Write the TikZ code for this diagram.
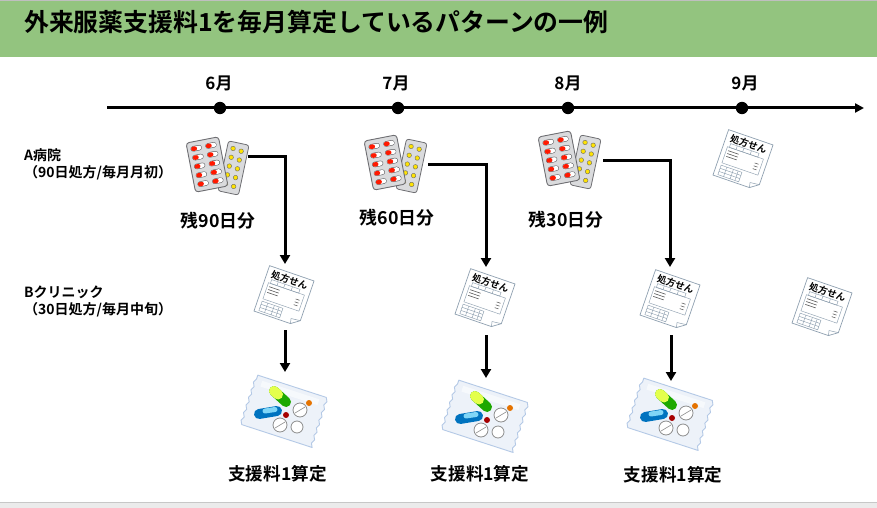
\documentclass[tikz,border=0pt]{standalone}
\usepackage{fontspec}
\setmainfont{Noto Sans CJK JP}[BoldFont={Noto Sans CJK JP Bold}]
\usetikzlibrary{arrows.meta}
\definecolor{hdr}{HTML}{93C47F}
\definecolor{cardfill}{HTML}{DADBDD}
\definecolor{cardedge}{HTML}{6E6E72}
\definecolor{bagedge}{HTML}{B4C9E6}
\definecolor{bagfill}{HTML}{EDF2F9}
\definecolor{paperedge}{HTML}{8FA0B0}
\newcommand{\capsl}[2]{%
  \draw[line width=5.4pt,line cap=round,cardedge!70!black] (#1-3,#2)--(#1+3,#2);
  \draw[line width=4.4pt,line cap=round,white] (#1-3,#2)--(#1+3,#2);
  \draw[line width=4.4pt,line cap=round,red!80!orange] (#1-3,#2)--(#1-1.4,#2);}
\newcommand{\ydot}[2]{\fill[draw=black!60,line width=.4pt,fill=yellow!85!orange] (#1,#2) circle (2.3);}
\tikzset{
  x=1pt,y=-1pt,
  conn/.style={line width=3pt,-{Triangle[length=9pt,width=10pt]}},
  monthlabel/.style={font=\bfseries\fontsize{17}{20}\selectfont},
  remain/.style={font=\bfseries\fontsize{17.8}{20}\selectfont},
  calc label/.style={font=\bfseries\fontsize{17.6}{20}\selectfont},
  rowlabel/.style={font=\bfseries\fontsize{14}{17}\selectfont,align=left,anchor=north west,inner sep=0pt},
  pillpack/.pic={
    \begin{scope}[shift={(15.5,2)},rotate=-12]
      \filldraw[fill=cardfill,draw=cardedge,line width=.8pt,rounded corners=2.5pt] (-10.5,-25.5) rectangle (10.5,25.5);
      \foreach \yy in {-19,-10,-1,8,17}{\ydot{-4.5}{\yy}\ydot{4}{\yy+1}}
    \end{scope}
    \begin{scope}[shift={(-11,-1.5)},rotate=11]
      \filldraw[fill=cardfill,draw=cardedge,line width=.9pt,rounded corners=3pt] (-16.5,-25) rectangle (16.5,25);
      \foreach \yy in {-18,-9,0,9,18}{\capsl{-7.5}{\yy}\capsl{7.5}{\yy}}
    \end{scope}
  },
  rxpaper/.pic={
    \begin{scope}[rotate=-19,line width=.45pt]
      \filldraw[fill=white,draw=paperedge,line width=.7pt]
        (-23.5,-24)--(23.5,-24)--(23.5,18)--(15,24)--(-23.5,24)--cycle;
      \draw[paperedge,line width=.5pt] (15,24)--(14,19)--(23.5,18);
      \node[inner sep=0pt,transform shape,font=\bfseries\fontsize{9.5}{10}\selectfont] (rxt) at (0,-17) {処方せん};
      \draw[paperedge] (-17,-11.5) rectangle (13,-7.5);
      \foreach \xx in {-10,-3,5}{\draw[paperedge] (\xx,-11.5)--(\xx,-7.5);}
      \draw[paperedge] (-19,-7.5)--(19,-7.5)--(19,9.5)--(-19,9.5)--cycle;
      \foreach \yy in {-4,-1,2}{\draw[black!65,line width=.6pt] (-17,\yy)--(-6,\yy);}
      \foreach \yy in {-1,2,5}{\draw[black!65,line width=.6pt] (12,\yy)--(16,\yy);}
      \draw[paperedge] (-19,12) rectangle (3,22);
      \foreach \yy in {15.3,18.6}{\draw[paperedge] (-19,\yy)--(3,\yy);}
      \foreach \xx in {-13,-6,-1}{\draw[paperedge] (\xx,12)--(\xx,22);}
    \end{scope}
  },
  medbag/.pic={
    \begin{scope}[rotate=-18]
      \filldraw[fill=bagfill,draw=bagedge,line width=.9pt,line join=round]
        (-36,-26)--(36,-26)--(38,-22)--(36,-18)--(38,-14)--(36,-10)--(38,-6)--(36,-2)--(38,2)--(36,6)--(38,10)--(36,14)--(38,18)--(36,22)--(38,26)
        --(-36,26)--(-38,22)--(-36,18)--(-38,14)--(-36,10)--(-38,6)--(-36,2)--(-38,-2)--(-36,-6)--(-38,-10)--(-36,-14)--(-38,-18)--(-36,-22)--cycle;
      \fill[white,opacity=.55] (-30,-22) rectangle (30,-16);
    \end{scope}
    \draw[line width=10pt,line cap=round,green!60!black!85!lime] (-10,-20)--(2,-9);
    \draw[line width=10pt,line cap=round,lime!60!yellow!70!white] (-10,-20)--(-6,-16.5);
    \draw[line width=10pt,line cap=round,blue!40!cyan!75!black] (-25,3)--(-7,0);
    \draw[line width=5pt,line cap=round,cyan!50!white] (-19,0)--(-9,-1.5);
    \fill[red!65!black] (2,4) circle (3);
    \fill[orange!90!black] (25,-8) circle (3);
    \foreach \px/\py/\pr in {16/-1/7,-4/14/7,13/16/6}{
      \filldraw[fill=white,draw=black!45,line width=.8pt] (\px,\py) circle (\pr);}
    \draw[black!45,line width=.6pt] (11,2)--(21,-4);
    \draw[black!45,line width=.6pt] (-9,17)--(1,11);
  },
}
\begin{document}
\begin{tikzpicture}
\useasboundingbox (0,0) rectangle (877,508);
\fill[white] (0,0) rectangle (877,508);
\fill[black!25] (0,0) rectangle (877,1);
\fill[hdr] (0,1) rectangle (877,57);
\node[anchor=west,inner sep=0pt,font=\bfseries\fontsize{24.85}{28}\selectfont] (title) at (24,22) {外来服薬支援料1を毎月算定しているパターンの一例};
\fill[black!8] (0,503) rectangle (877,508);
\draw[black!22,line width=1pt] (0,502.5)--(877,502.5);

% timeline
\coordinate (tstart) at (107,108);
\coordinate (tend) at (864,108);
\draw[line width=3pt,-{Triangle[length=9pt,width=9pt]}] (tstart)--(tend);
\foreach \nm/\xx/\lx/\tx in {jun/220/219/6月,jul/398/396/7月,aug/568/568/8月,sep/742/745/9月}{
  \fill (\xx,108) circle (6.2);
  \node[monthlabel,inner sep=0pt] (m\nm) at (\lx,83) {\tx};
}

\node[rowlabel] (rowa) at (24,148) {A病院\\（90日処方/毎月月初）};
\node[rowlabel] (rowb) at (24,286) {Bクリニック\\（30日処方/毎月中旬）};

% anchors for connectors
\coordinate (p1) at (248,156); \coordinate (p2) at (428,164); \coordinate (p3) at (603,160);
\coordinate (r1t) at (285,264); \coordinate (r2t) at (486,267); \coordinate (r3t) at (670,267);
\coordinate (r1b) at (285,330); \coordinate (r2b) at (486,335); \coordinate (r3b) at (671,335);
\coordinate (b1t) at (285,372); \coordinate (b2t) at (486,378); \coordinate (b3t) at (671,381);

\draw[conn] (p1)-|(r1t);
\draw[conn] (p2)-|(r2t);
\draw[conn] (p3)-|(r3t);
\draw[conn] (r1b)--(b1t);
\draw[conn] (r2b)--(b2t);
\draw[conn] (r3b)--(b3t);

\pic at (218,166) {pillpack};
\pic at (396,164) {pillpack};
\pic at (570,160) {pillpack};

\pic at (743,160) {rxpaper};
\pic at (284,296) {rxpaper};
\pic at (485,299) {rxpaper};
\pic at (670,300) {rxpaper};
\pic at (822,308) {rxpaper};

\pic at (284,411) {medbag};
\pic at (485,416) {medbag};
\pic at (670,414) {medbag};

\node[remain,inner sep=0pt] (z1) at (218,221) {残90日分};
\node[remain,inner sep=0pt] (z2) at (397,218) {残60日分};
\node[remain,inner sep=0pt] (z3) at (566,220) {残30日分};
\node[calc label,inner sep=0pt] (c1) at (277.5,474) {支援料1算定};
\node[calc label,inner sep=0pt] (c2) at (480,474) {支援料1算定};
\node[calc label,inner sep=0pt] (c3) at (673,475) {支援料1算定};
\end{tikzpicture}
\end{document}
